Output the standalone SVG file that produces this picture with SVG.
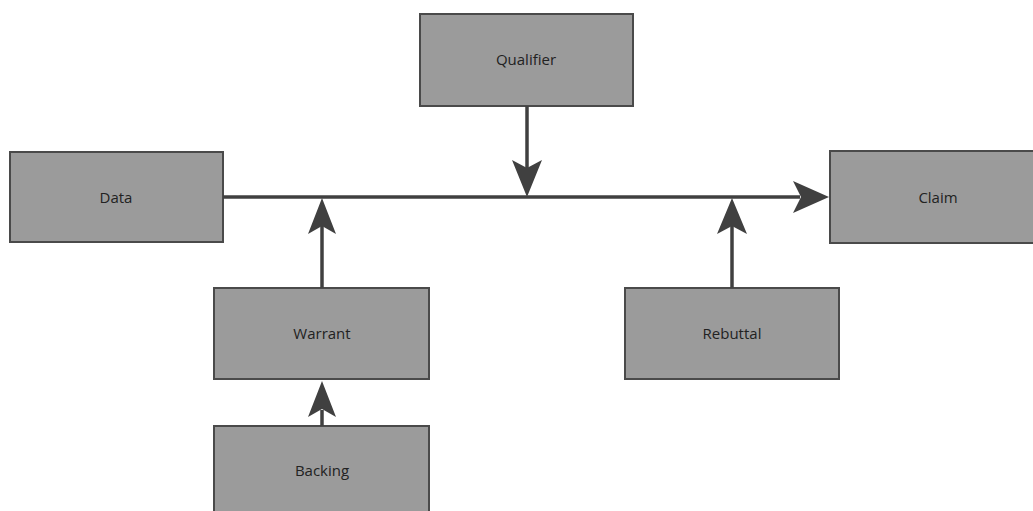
<svg xmlns="http://www.w3.org/2000/svg" width="1033" height="511" viewBox="0 0 1033 511">
<style>
.box{fill:#9b9b9b;stroke:#4a4a4a;stroke-width:2}
.lbl{font-family:"Open Sans","Noto Sans",sans-serif;font-size:15px;fill:#222;text-anchor:middle;dominant-baseline:central}
.edge{stroke:#404040;stroke-width:3.5;fill:none}
.head{fill:#404040}
</style>
<rect width="1033" height="511" fill="#fff"/>
<g id="data"><rect class="box" x="10" y="152" width="213" height="90"/><text class="lbl" x="116" y="197">Data</text></g>
<g id="qualifier"><rect class="box" x="420" y="14" width="213" height="92"/><text class="lbl" x="526" y="59">Qualifier</text></g>
<g id="claim"><rect class="box" x="830" y="151" width="210" height="92"/><text class="lbl" x="938" y="197">Claim</text></g>
<g id="warrant"><rect class="box" x="214" y="288" width="215" height="91"/><text class="lbl" x="322" y="333">Warrant</text></g>
<g id="rebuttal"><rect class="box" x="625" y="288" width="214" height="91"/><text class="lbl" x="732" y="333">Rebuttal</text></g>
<g id="backing"><rect class="box" x="214" y="426" width="215" height="92"/><text class="lbl" x="322" y="470">Backing</text></g>
<g id="connectors">
<line class="edge" x1="223" y1="197" x2="800" y2="197"/>
<path class="head" d="M829,197 L793,181 L801,197 L793,213 Z"/>
<line class="edge" x1="527" y1="106" x2="527" y2="170"/>
<path class="head" d="M527,197 L512,160 L527,168 L542,160 Z"/>
<line class="edge" x1="322" y1="288" x2="322" y2="225"/>
<path class="head" d="M322,198 L308,234 L322,226 L336,234 Z"/>
<line class="edge" x1="322" y1="426" x2="322" y2="410"/>
<path class="head" d="M322,381 L308,417 L322,409 L336,417 Z"/>
<line class="edge" x1="732" y1="288" x2="732" y2="225"/>
<path class="head" d="M732,198 L717,234 L732,226 L747,234 Z"/>
</g>
</svg>
